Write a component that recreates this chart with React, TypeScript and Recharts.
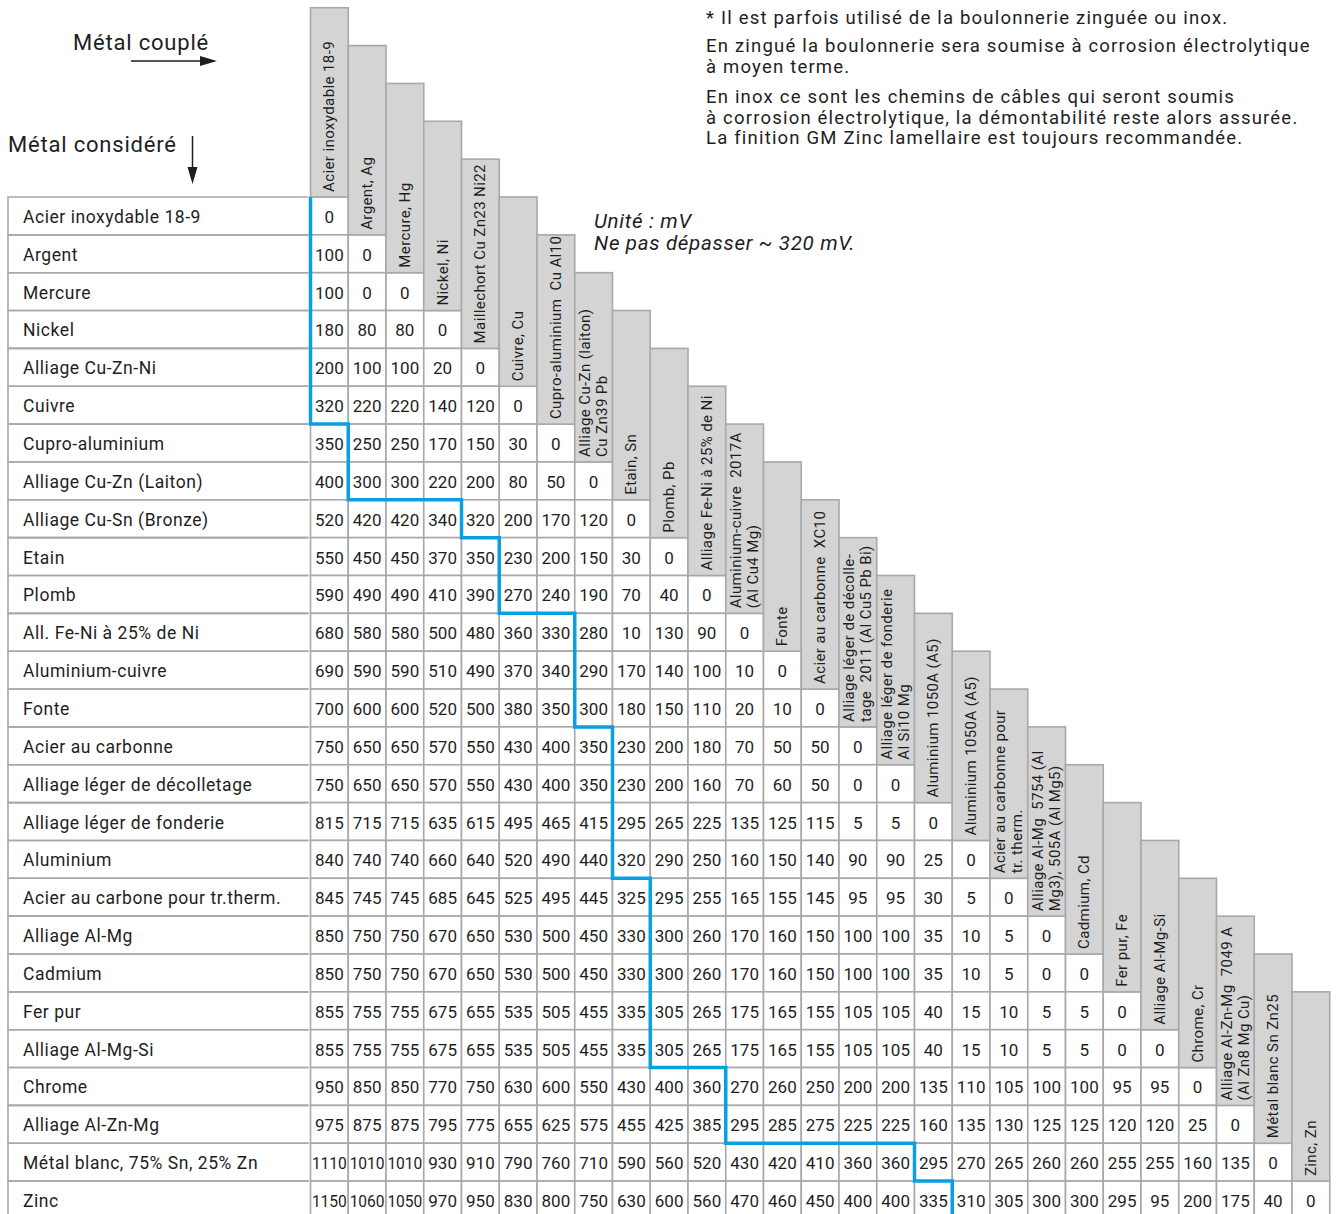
import React from "react";
import { ScatterChart, Scatter, XAxis, YAxis } from "recharts";

const ROW_LABELS = [
  "Acier inoxydable 18-9",
  "Argent",
  "Mercure",
  "Nickel",
  "Alliage Cu-Zn-Ni",
  "Cuivre",
  "Cupro-aluminium",
  "Alliage Cu-Zn (Laiton)",
  "Alliage Cu-Sn (Bronze)",
  "Etain",
  "Plomb",
  "All. Fe-Ni à 25% de Ni",
  "Aluminium-cuivre",
  "Fonte",
  "Acier au carbonne",
  "Alliage léger de décolletage",
  "Alliage léger de fonderie",
  "Aluminium",
  "Acier au carbone pour tr.therm.",
  "Alliage Al-Mg",
  "Cadmium",
  "Fer pur",
  "Alliage Al-Mg-Si",
  "Chrome",
  "Alliage Al-Zn-Mg",
  "Métal blanc, 75% Sn, 25% Zn",
  "Zinc",
];

const COL_LABELS: string[][] = [
  ["Acier inoxydable 18-9"],
  ["Argent, Ag"],
  ["Mercure, Hg"],
  ["Nickel, Ni"],
  ["Maillechort Cu Zn23 Ni22"],
  ["Cuivre, Cu"],
  ["Cupro-aluminium  Cu Al10"],
  ["Alliage Cu-Zn (laiton)", "Cu Zn39 Pb"],
  ["Etain, Sn"],
  ["Plomb, Pb"],
  ["Alliage Fe-Ni à 25% de Ni"],
  ["Aluminium-cuivre  2017A", "(Al Cu4 Mg)"],
  ["Fonte"],
  ["Acier au carbonne  XC10"],
  ["Alliage léger de décolle-", "tage  2011 (Al Cu5 Pb Bi)"],
  ["Alliage léger de fonderie", "Al Si10 Mg"],
  ["Aluminium 1050A (A5)"],
  ["Aluminium 1050A (A5)"],
  ["Acier au carbonne pour", "tr. therm."],
  ["Alliage Al-Mg  5754 (Al", "Mg3), 505A (Al Mg5)"],
  ["Cadmium, Cd"],
  ["Fer pur, Fe"],
  ["Alliage Al-Mg-Si"],
  ["Chrome, Cr"],
  ["Alliage Al-Zn-Mg  7049 A", "(Al Zn8 Mg Cu)"],
  ["Métal blanc Sn Zn25"],
  ["Zinc, Zn"],
];

// potential difference in mV, row = metal considered, col = coupled metal
const VALUES: number[][] = [
  [0],
  [100, 0],
  [100, 0, 0],
  [180, 80, 80, 0],
  [200, 100, 100, 20, 0],
  [320, 220, 220, 140, 120, 0],
  [350, 250, 250, 170, 150, 30, 0],
  [400, 300, 300, 220, 200, 80, 50, 0],
  [520, 420, 420, 340, 320, 200, 170, 120, 0],
  [550, 450, 450, 370, 350, 230, 200, 150, 30, 0],
  [590, 490, 490, 410, 390, 270, 240, 190, 70, 40, 0],
  [680, 580, 580, 500, 480, 360, 330, 280, 10, 130, 90, 0],
  [690, 590, 590, 510, 490, 370, 340, 290, 170, 140, 100, 10, 0],
  [700, 600, 600, 520, 500, 380, 350, 300, 180, 150, 110, 20, 10, 0],
  [750, 650, 650, 570, 550, 430, 400, 350, 230, 200, 180, 70, 50, 50, 0],
  [750, 650, 650, 570, 550, 430, 400, 350, 230, 200, 160, 70, 60, 50, 0, 0],
  [815, 715, 715, 635, 615, 495, 465, 415, 295, 265, 225, 135, 125, 115, 5, 5, 0],
  [840, 740, 740, 660, 640, 520, 490, 440, 320, 290, 250, 160, 150, 140, 90, 90, 25, 0],
  [845, 745, 745, 685, 645, 525, 495, 445, 325, 295, 255, 165, 155, 145, 95, 95, 30, 5, 0],
  [850, 750, 750, 670, 650, 530, 500, 450, 330, 300, 260, 170, 160, 150, 100, 100, 35, 10, 5, 0],
  [850, 750, 750, 670, 650, 530, 500, 450, 330, 300, 260, 170, 160, 150, 100, 100, 35, 10, 5, 0, 0],
  [855, 755, 755, 675, 655, 535, 505, 455, 335, 305, 265, 175, 165, 155, 105, 105, 40, 15, 10, 5, 5, 0],
  [855, 755, 755, 675, 655, 535, 505, 455, 335, 305, 265, 175, 165, 155, 105, 105, 40, 15, 10, 5, 5, 0, 0],
  [950, 850, 850, 770, 750, 630, 600, 550, 430, 400, 360, 270, 260, 250, 200, 200, 135, 110, 105, 100, 100, 95, 95, 0],
  [975, 875, 875, 795, 775, 655, 625, 575, 455, 425, 385, 295, 285, 275, 225, 225, 160, 135, 130, 125, 125, 120, 120, 25, 0],
  [1110, 1010, 1010, 930, 910, 790, 760, 710, 590, 560, 520, 430, 420, 410, 360, 360, 295, 270, 265, 260, 260, 255, 255, 160, 135, 0],
  [1150, 1060, 1050, 970, 950, 830, 800, 750, 630, 600, 560, 470, 460, 450, 400, 400, 335, 310, 305, 300, 300, 295, 95, 200, 175, 40, 0],
];

const LIMIT = 320;

const NOTES = [
  "* Il est parfois utilisé de la boulonnerie zinguée ou inox.",
  "En zingué la boulonnerie sera soumise à corrosion électrolytique",
  "à moyen terme.",
  "En inox ce sont les chemins de câbles qui seront soumis",
  "à corrosion électrolytique, la démontabilité reste alors assurée.",
  "La finition GM Zinc lamellaire est toujours recommandée.",
];
const NOTE_BASELINES = [24, 52, 73, 103, 124, 144];

const FONT = "Roboto, 'Noto Sans', sans-serif";
const GRID = "#a8a8a8";
const HEAD_FILL = "#d4d4d4";
const BLUE = "#0a9fe2";
const INK = "#1e1e1e";

const W = 1340;
const H = 1222;
const CELL_W = 37.75;
const CELL_H = 37.85;
const TABLE_LEFT = 310.5;
const TABLE_TOP = 197;
const LABEL_LEFT = 8;
const HEAD_ROWS = 5;
const N = COL_LABELS.length;

const cells = VALUES.flatMap((row, r) =>
  row.map((v, c) => ({ x: c + 0.5, y: r + 0.5, v }))
);
const headers = COL_LABELS.map((lines, c) => ({
  x: c + 0.5,
  y: c - HEAD_ROWS / 2,
  lines,
}));
// blue limit line: first coupled metal whose difference stays under the limit
const boundary = VALUES.map((row) => row.findIndex((v) => v <= LIMIT));
const limitPath = boundary.flatMap((b, r) => [
  { x: b, y: r },
  { x: b, y: r + 1 },
]);

function CellShape(props: any) {
  const { cx, cy, payload } = props;
  const s = String(payload.v);
  return (
    <g>
      <rect
        x={cx - CELL_W / 2}
        y={cy - CELL_H / 2}
        width={CELL_W}
        height={CELL_H}
        fill="#fff"
        stroke={GRID}
        strokeWidth={1.6}
      />
      <text
        x={cx}
        y={cy + 1}
        textAnchor="middle"
        dominantBaseline="central"
        fontFamily={FONT}
        fontSize={17}
        fill={INK}
        {...(s.length > 3 ? { textLength: 35, lengthAdjust: "spacingAndGlyphs" } : {})}
      >
        {s}
      </text>
    </g>
  );
}

function HeaderShape(props: any) {
  const { cx, cy, payload } = props;
  const h = HEAD_ROWS * CELL_H;
  const bottom = cy + h / 2;
  const lines: string[] = payload.lines;
  return (
    <g>
      <rect
        x={cx - CELL_W / 2}
        y={cy - h / 2}
        width={CELL_W}
        height={h}
        fill={HEAD_FILL}
        stroke={GRID}
        strokeWidth={1.6}
      />
      {lines.map((t, i) => {
        const tx = cx + (i - (lines.length - 1) / 2) * 17;
        const ty = bottom - 5;
        return (
          <text
            key={i}
            x={tx}
            y={ty}
            transform={`rotate(-90 ${tx} ${ty})`}
            dominantBaseline="central"
            fontFamily={FONT}
            fontSize={15}
            fill={INK}
            style={{ whiteSpace: "pre", letterSpacing: 0.4 }}
          >
            {t}
          </text>
        );
      })}
    </g>
  );
}

function RowTick(props: any) {
  const { y, payload } = props;
  const idx = Math.floor(payload.value);
  const top = y - CELL_H / 2;
  const bot = y + CELL_H / 2;
  const right = TABLE_LEFT - 2;
  return (
    <g>
      <path
        d={`M${right},${top} H${LABEL_LEFT} V${bot} H${right}`}
        fill="none"
        stroke={GRID}
        strokeWidth={1.6}
      />
      <text
        x={LABEL_LEFT + 15}
        y={y + 1}
        dominantBaseline="central"
        fontFamily={FONT}
        fontSize={17.5}
        fill={INK}
        style={{ letterSpacing: 0.55 }}
      >
        {ROW_LABELS[idx]}
      </text>
    </g>
  );
}

const NoDot = () => <g />;

export default function App() {
  const rowTicks = ROW_LABELS.map((_, i) => i + 0.5);
  return (
    <div
      style={{
        position: "absolute",
        left: 0,
        top: 0,
        width: 1340,
        height: 1214,
        overflow: "hidden",
        background: "#fff",
      }}
    >
      <ScatterChart
        width={W}
        height={H}
        margin={{
          top: TABLE_TOP - HEAD_ROWS * CELL_H,
          left: LABEL_LEFT,
          right: W - TABLE_LEFT - N * CELL_W,
          bottom: H - TABLE_TOP - N * CELL_H,
        }}
      >
        <XAxis type="number" dataKey="x" domain={[0, N]} hide />
        <YAxis
          type="number"
          dataKey="y"
          domain={[-HEAD_ROWS, N]}
          reversed
          width={TABLE_LEFT - LABEL_LEFT}
          ticks={rowTicks}
          interval={0}
          axisLine={false}
          tickLine={false}
          tick={<RowTick />}
        />
        <Scatter data={cells} shape={<CellShape />} isAnimationActive={false} />
        <Scatter data={headers} shape={<HeaderShape />} isAnimationActive={false} />
        <Scatter
          data={limitPath}
          line={{ stroke: BLUE, strokeWidth: 3.5 }}
          lineType="joint"
          shape={<NoDot />}
          isAnimationActive={false}
        />
      </ScatterChart>

      <svg
        width={1340}
        height={1214}
        style={{ position: "absolute", left: 0, top: 0, pointerEvents: "none" }}
      >
        <g fontFamily={FONT} fill={INK}>
          <text x={73} y={50} fontSize={22} style={{ letterSpacing: 0.8 }}>
            Métal couplé
          </text>
          <text x={8} y={152} fontSize={22} style={{ letterSpacing: 0.8 }}>
            Métal considéré
          </text>
          <line x1={131} y1={61} x2={203} y2={61} stroke={INK} strokeWidth={1.5} />
          <polygon points="200,56 217,61 200,66" fill={INK} />
          <line x1={192.5} y1={136} x2={192.5} y2={170} stroke={INK} strokeWidth={1.5} />
          <polygon points="187.5,167 192.5,184 197.5,167" fill={INK} />

          <text x={594} y={228} fontSize={20.5} fontStyle="italic" style={{ letterSpacing: 0.7 }}>
            Unité : mV
          </text>
          <text x={594} y={250} fontSize={20.5} fontStyle="italic" style={{ letterSpacing: 0.7 }}>
            Ne pas dépasser ~ 320 mV.
          </text>

          {NOTES.map((t, i) => (
            <text
              key={i}
              x={706}
              y={NOTE_BASELINES[i]}
              fontSize={18.5}
              style={{ letterSpacing: 1.2 }}
            >
              {t}
            </text>
          ))}
        </g>
      </svg>
    </div>
  );
}
